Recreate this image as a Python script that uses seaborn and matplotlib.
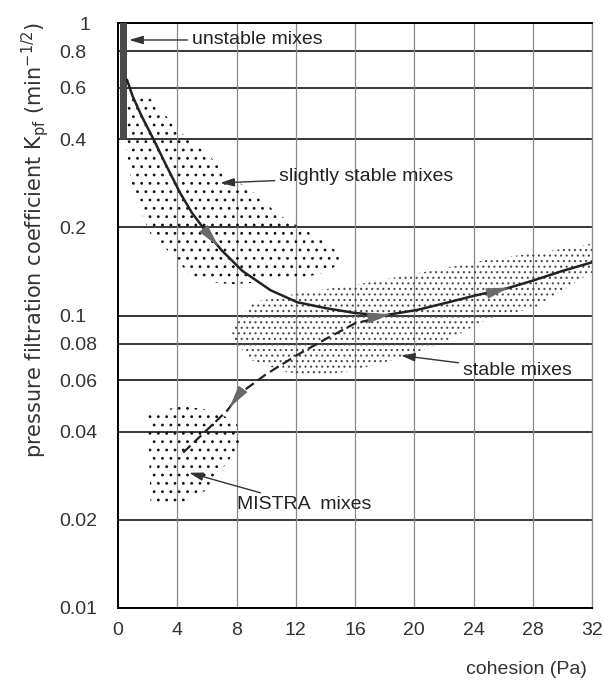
import numpy as np
import pandas as pd
import matplotlib
matplotlib.use("Agg")
import matplotlib.pyplot as plt
import matplotlib.transforms as mtransforms
import seaborn as sns

# ---------------- data ----------------
# solid curve: cohesion (Pa) vs Kpf
main_x = [0.6, 1.0, 1.6, 2.4, 3.2, 4.2, 5.0, 6.0, 7.0, 8.4, 10.3, 12.1, 14.0,
          16.0, 17.9, 20.2, 22.0, 24.1, 26.3, 28.0, 30.0, 32.0]
main_y = [0.64, 0.56, 0.48, 0.40, 0.33, 0.262, 0.224, 0.192, 0.167, 0.142,
          0.122, 0.111, 0.106, 0.102, 0.100, 0.1045, 0.110, 0.117, 0.124,
          0.1316, 0.142, 0.152]
# dashed curve (to MISTRA mixes)
mistra_x = [4.4, 6.0, 7.4, 8.2, 10.0, 12.1, 14.0, 16.0, 17.7]
mistra_y = [0.034, 0.0406, 0.0475, 0.054, 0.063, 0.0733, 0.083, 0.094, 0.0985]

# arrow positions along curves (cohesion of arrow tip)
main_arrow_x = [6.9, 18.6, 26.6]
mistra_arrow_x = [7.4]

# regions
unstable_x = [0.1, 0.6, 0.6, 0.1]
unstable_y = [1.0, 1.0, 0.4, 0.4]

slight_x = [0.5, 2.2, 4.3, 6.2, 7.4, 8.9, 10.9, 12.3, 14.0, 15.3, 14.0, 12.5,
            10.0, 7.6, 5.1, 4.0, 2.2, 1.0, 0.5]
slight_y = [0.58, 0.55, 0.42, 0.35, 0.30, 0.27, 0.22, 0.20, 0.18, 0.155, 0.14,
            0.135, 0.13, 0.128, 0.132, 0.155, 0.19, 0.26, 0.39]

stable_x = [7.6, 9.1, 12.5, 15.9, 20.4, 24.9, 29.4, 32.0, 32.0, 31.7, 28.3,
            24.9, 22.2, 19.3, 15.9, 13.6, 11.4, 9.1, 8.0]
stable_y = [0.089, 0.111, 0.12, 0.127, 0.14, 0.155, 0.167, 0.176, 0.14, 0.138,
            0.107, 0.097, 0.082, 0.072, 0.065, 0.062, 0.064, 0.07, 0.08]

mistra_rx = [4.2, 6.4, 8.0, 8.4, 7.6, 6.0, 4.0, 2.2, 2.0]
mistra_ry = [0.049, 0.0475, 0.043, 0.0369, 0.0327, 0.0253, 0.0226, 0.0229, 0.046]

# labels: text, text position, arrow tip
labels = ["unstable mixes", "slightly stable mixes", "stable mixes", "MISTRA  mixes"]
label_x = [5.0, 10.9, 23.3, 8.0]
label_y = [0.875, 0.298, 0.065, 0.0225]
tip_x = [0.75, 6.9, 19.1, 4.8]
tip_y = [0.875, 0.284, 0.073, 0.029]

x_ticks = [0, 4, 8, 12, 16, 20, 24, 28, 32]
y_ticks = [0.01, 0.02, 0.04, 0.06, 0.08, 0.1, 0.2, 0.4, 0.6, 0.8, 1]
y_tick_labels = ["0.01", "0.02", "0.04", "0.06", "0.08", "0.1", "0.2", "0.4",
                 "0.6", "0.8", "1"]

# ---------------- plotting ----------------
sns.set_theme(style="white")
plt.rcParams["font.family"] = ["Liberation Sans", "DejaVu Sans"]
plt.rcParams["hatch.linewidth"] = 0.8

fig = plt.figure(figsize=(6.04, 6.81), dpi=100)
ax = fig.add_axes([0.1954, 0.1072, 0.7848, 0.859])
ax.set_yscale("log")
ax.set_xlim(0, 32)
ax.set_ylim(0.01, 1)

# grid
for yv in y_ticks:
    ax.axhline(yv, color="black", lw=1.1, zorder=1)
for xv in x_ticks[1:-1]:
    ax.axvline(xv, color="#8a8a8a", lw=0.9, zorder=1)

# regions
ax.fill(slight_x, slight_y, facecolor="none", edgecolor="#111111", hatch="..",
        linewidth=0, zorder=2)
ax.fill(stable_x, stable_y, facecolor="none", edgecolor="#4a4a4a", hatch="...",
        linewidth=0, zorder=2)
ax.fill(mistra_rx, mistra_ry, facecolor="none", edgecolor="#111111", hatch="..",
        linewidth=0, zorder=2)
ax.fill(unstable_x, unstable_y, facecolor="#4a4a4a", edgecolor="none", zorder=3)

# curves
df_main = pd.DataFrame({"c": main_x, "k": main_y})
df_mis = pd.DataFrame({"c": mistra_x, "k": mistra_y})
sns.lineplot(data=df_main, x="c", y="k", ax=ax, color="#222222", lw=1.8,
             sort=False, zorder=4)
sns.lineplot(data=df_mis, x="c", y="k", ax=ax, color="#222222", lw=1.6,
             sort=False, dashes=False, zorder=4)
ax.lines[-1].set_dashes((4.5, 2.2))

def on_curve(xs, ys, xv):
    return 10 ** np.interp(xv, xs, np.log10(ys))

arrow_kw = dict(arrowstyle="-|>,head_length=1.3,head_width=0.3",
                color="#6a6a6a", lw=0, mutation_scale=13)
for xa in main_arrow_x:
    ax.annotate("", xy=(xa, on_curve(main_x, main_y, xa)),
                xytext=(xa - 0.6, on_curve(main_x, main_y, xa - 0.6)),
                arrowprops=arrow_kw, zorder=5)
for xa in mistra_arrow_x:
    ax.annotate("", xy=(xa, on_curve(mistra_x, mistra_y, xa)),
                xytext=(xa + 0.6, on_curve(mistra_x, mistra_y, xa + 0.6)),
                arrowprops=arrow_kw, zorder=5)

# annotations
for t, lx, ly, tx, ty in zip(labels, label_x, label_y, tip_x, tip_y):
    ax.annotate(t, xy=(tx, ty), xytext=(lx, ly), fontsize=14, color="#222222",
                va="center", ha="left",
                arrowprops=dict(arrowstyle="-|>,head_length=0.6,head_width=0.18",
                                color="#333333", lw=1.0, shrinkA=1, shrinkB=0),
                zorder=6)

# axes styling
ax.set_xticks(x_ticks)
ax.set_xticklabels([str(v) for v in x_ticks])
ax.set_yticks(y_ticks)
ax.set_yticklabels(y_tick_labels, ha="left")
ax.yaxis.set_minor_locator(matplotlib.ticker.NullLocator())
ax.tick_params(axis="both", length=0, labelsize=14, labelcolor="#333333")
ax.tick_params(axis="y", pad=42)
ax.tick_params(axis="x", pad=10)
# the top label "1" sits further right in the reference
shift = mtransforms.ScaledTranslation(0.2, 0, fig.dpi_scale_trans)
top_lab = ax.get_yticklabels()[-1]
top_lab.set_transform(top_lab.get_transform() + shift)

for side in ["left", "bottom", "top"]:
    ax.spines[side].set_color("black")
    ax.spines[side].set_linewidth(1.4)
ax.spines["right"].set_color("#8a8a8a")
ax.spines["right"].set_linewidth(1.0)

ax.set_xlabel("cohesion (Pa)", fontsize=14, color="#333333", ha="right")
ax.xaxis.set_label_coords(0.99, -0.09)
ax.set_ylabel("pressure filtration coefficient K$_{\\mathregular{pf}}$ (min$^{\\mathregular{-1/2}}$)",
              fontsize=15, color="#333333", family=["DejaVu Sans"])
ax.yaxis.set_label_coords(-0.141, 0.629)

fig.savefig("out.png", dpi=100)
